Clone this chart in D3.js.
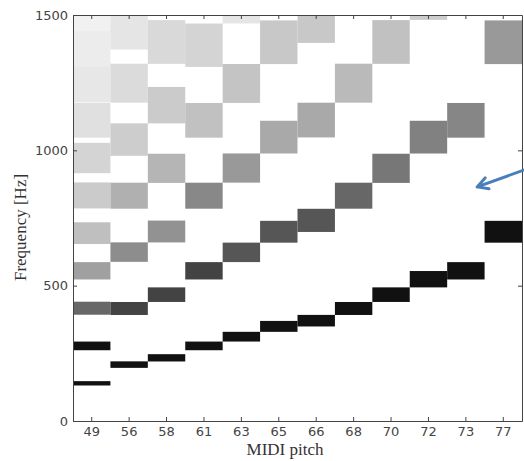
<!DOCTYPE html>
<html>
<head>
<meta charset="UTF-8"/>
<title>Harmonics by MIDI pitch</title>
<script src="https://cdn.jsdelivr.net/npm/d3@7/dist/d3.min.js"></script>
<style>
  body { margin: 0; background: #fff; }
  svg { display: block; }
  .tick text { font-family: 'DejaVu Sans', sans-serif; font-size: 13px; fill: #444; }
  .axis path, .axis line { stroke: #444; }
  text.label { font-family: 'Liberation Serif', serif; font-size: 17px; fill: #333; }
</style>
</head>
<body>
<svg width="524" height="461"></svg>
<script>
// MIDI pitches shown as columns
const pitches = ['49', '56', '58', '61', '63', '65', '66', '68', '70', '72', '73', '77'];

// peak frequencies (Hz) read per column, lowest first
const peaks = [
  [139, 277, 416, 554, 693, 832, 970, 1109, 1247, 1386, 1525],
  [208, 415, 623, 831, 1038, 1246, 1454],
  [233, 466, 699, 932, 1165, 1398],
  [277, 554, 831, 1109, 1386],
  [311, 622, 933, 1245, 1556],
  [349, 698, 1047, 1397],
  [370, 740, 1110, 1480],
  [415, 831, 1246],
  [466, 932, 1398],
  [523, 1047, 1570],
  [554, 1109],
  [698, 1397]
];

// darkness of each peak (0 = white, 1 = black)
const levels = [
  [1, 1, 0.64, 0.40, 0.27, 0.22, 0.18, 0.13, 0.10, 0.08, 0.06],
  [1, 0.79, 0.48, 0.33, 0.21, 0.15, 0.11],
  [1, 0.79, 0.46, 0.31, 0.22, 0.16],
  [1, 0.79, 0.50, 0.26, 0.18],
  [1, 0.71, 0.43, 0.25, 0.11],
  [1, 0.71, 0.36, 0.23],
  [1, 0.71, 0.36, 0.23],
  [1, 0.64, 0.29],
  [1, 0.57, 0.26],
  [1, 0.53, 0.21],
  [1, 0.51],
  [1, 0.43]
];

const yTicks = [0, 500, 1000, 1500];

const svg = d3.select('svg');
const pl = 73, pr = 522, pt = 15, pb = 421;

const x = d3.scaleBand().domain(pitches).range([pl, pr]).padding(0);
const y = d3.scaleLinear().domain([0, 1500]).range([pb, pt]);
const shade = d3.scaleLinear().domain([0, 1]).range(['#ffffff', '#111111']);

// each peak covers one semitone either side
const semi = Math.pow(2, 1 / 12);

const cells = [];
pitches.forEach((p, i) => {
  peaks[i].forEach((f, k) => cells.push({ pitch: p, f: f, v: levels[i][k] }));
});

svg.append('defs').append('clipPath').attr('id', 'plot')
  .append('rect').attr('x', pl).attr('y', pt)
  .attr('width', pr - pl).attr('height', pb - pt);

svg.append('g')
  .attr('clip-path', 'url(#plot)')
  .selectAll('rect')
  .data(cells)
  .enter()
  .append('rect')
  .attr('x', d => x(d.pitch))
  .attr('width', x.bandwidth())
  .attr('y', d => y(d.f * semi))
  .attr('height', d => y(d.f / semi) - y(d.f * semi))
  .attr('fill', d => shade(d.v));

// box with inward ticks
svg.append('g')
  .attr('class', 'axis')
  .attr('transform', `translate(0, ${pb})`)
  .call(d3.axisBottom(x).tickSizeInner(-4).tickSizeOuter(0).tickPadding(6));

svg.append('g')
  .attr('class', 'axis')
  .attr('transform', `translate(${pl}, 0)`)
  .call(d3.axisLeft(y).tickValues(yTicks).tickFormat(d3.format('d'))
    .tickSizeInner(-4).tickSizeOuter(0).tickPadding(5));

svg.append('g')
  .attr('class', 'axis')
  .attr('transform', `translate(0, ${pt})`)
  .call(d3.axisTop(x).tickSizeInner(-4).tickSizeOuter(0).tickFormat(''));

svg.append('g')
  .attr('class', 'axis')
  .attr('transform', `translate(${pr}, 0)`)
  .call(d3.axisRight(y).tickValues(yTicks).tickSizeInner(-4).tickSizeOuter(0).tickFormat(''));

svg.append('text')
  .attr('class', 'label')
  .attr('x', 285)
  .attr('y', 455)
  .attr('text-anchor', 'middle')
  .text('MIDI pitch');

svg.append('text')
  .attr('class', 'label')
  .attr('transform', `translate(26, ${y(715)}) rotate(-90)`)
  .attr('text-anchor', 'middle')
  .text('Frequency [Hz]');

// blue pointer arrow
const tip = [x('73') + 30, y(865)];
const tail = [pr + 4, y(930)];
const ang = Math.atan2(tail[1] - tip[1], tail[0] - tip[0]);
const head = 12;
svg.append('path')
  .attr('d', `M${tail[0]},${tail[1]}L${tip[0]},${tip[1]}` +
    `M${tip[0] + head * Math.cos(ang - 0.5)},${tip[1] + head * Math.sin(ang - 0.5)}` +
    `L${tip[0]},${tip[1]}` +
    `L${tip[0] + head * Math.cos(ang + 0.5)},${tip[1] + head * Math.sin(ang + 0.5)}`)
  .attr('fill', 'none')
  .attr('stroke', '#4a7ebb')
  .attr('stroke-width', 3)
  .attr('stroke-linecap', 'round')
  .attr('stroke-linejoin', 'round');
</script>
</body>
</html>
